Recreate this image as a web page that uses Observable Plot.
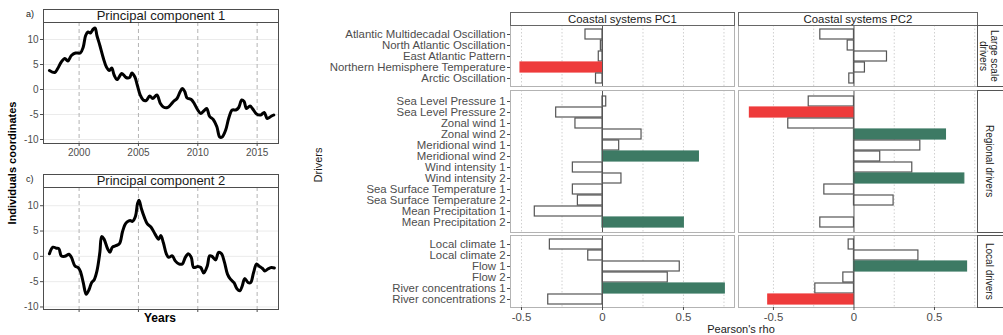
<!DOCTYPE html>
<html><head><meta charset="utf-8">
<script src="https://cdn.jsdelivr.net/npm/d3@7"></script>
<script src="https://cdn.jsdelivr.net/npm/@observablehq/plot@0.6"></script>
<style>
body{margin:0;background:#fff;font-family:"Liberation Sans",Arial,Helvetica,sans-serif;}
#root{position:relative;width:1003px;height:335px;overflow:hidden;background:#fff;}
.abs{position:absolute;white-space:nowrap;}
.strip{position:absolute;box-sizing:border-box;background:#fff;text-align:center;color:#1a1a1a;white-space:nowrap;}
svg{overflow:visible;}
</style></head><body><div id="root"></div>
<script>
// ---------- Data: time series (principal components) ----------
const pc1Years = [1997.5,1997.95,1998.2,1998.5,1998.8,1999.05,1999.35,1999.7,2000.1,2000.35,2000.55,2000.75,2000.95,2001.2,2001.35,2001.5,2001.75,2002.05,2002.3,2002.55,2002.75,2002.95,2003.2,2003.6,2003.95,2004.25,2004.45,2004.7,2004.9,2005.15,2005.4,2005.65,2005.95,2006.2,2006.55,2006.85,2007.1,2007.45,2007.7,2007.95,2008.25,2008.5,2008.7,2008.9,2009.1,2009.45,2009.7,2010.0,2010.25,2010.5,2010.75,2011.0,2011.3,2011.6,2011.85,2012.05,2012.35,2012.6,2012.9,2013.2,2013.45,2013.7,2013.9,2014.1,2014.4,2014.6,2014.95,2015.3,2015.6,2015.85,2016.15,2016.4];
const pc1Values = [3.8,3.4,4.2,5.5,6.2,5.7,6.8,7.3,7.3,8.5,10.8,11.5,11.3,12.1,12.3,10.8,8.8,6.2,4.5,3.8,4.3,2.9,2.0,3.2,2.4,2.4,3.3,2.5,0.9,-1.1,-2.1,-2.2,-1.3,-1.8,-1.1,-2.8,-3.5,-3.6,-3.1,-2.4,-1.8,-0.5,0.2,-0.4,-1.7,-2.0,-2.8,-4.1,-4.8,-4.3,-3.8,-5.4,-6.0,-7.4,-9.5,-9.5,-8.1,-5.8,-4.1,-4.1,-3.6,-2.1,-2.4,-3.8,-3.3,-3.8,-4.9,-5.1,-4.6,-5.8,-5.4,-5.1];
const pc2Years = [1997.5,1997.8,1998.1,1998.3,1998.5,1998.8,1999.15,1999.35,1999.65,1999.9,2000.1,2000.35,2000.6,2000.85,2001.05,2001.25,2001.5,2001.75,2001.9,2002.1,2002.4,2002.6,2002.8,2003.1,2003.4,2003.65,2003.85,2004.05,2004.3,2004.5,2004.75,2004.92,2005.05,2005.25,2005.5,2005.75,2006.05,2006.4,2006.7,2006.88,2007.1,2007.35,2007.55,2007.85,2008.1,2008.4,2008.7,2008.95,2009.2,2009.45,2009.65,2010.0,2010.25,2010.5,2010.8,2011.0,2011.2,2011.5,2011.75,2012.0,2012.25,2012.5,2012.75,2013.05,2013.3,2013.55,2013.75,2013.95,2014.25,2014.45,2014.7,2014.95,2015.15,2015.45,2015.65,2015.9,2016.2,2016.45];
const pc2Values = [0.5,1.8,1.6,1.5,0.1,0.0,0.4,-0.2,-1.9,-2.2,-2.9,-5.2,-7.5,-6.5,-5.2,-4.7,-2.9,0.8,3.9,3.4,1.5,0.8,1.8,2.1,2.5,4.8,6.2,6.8,7.1,6.9,7.9,10.4,11.1,9.4,7.7,6.4,5.8,4.4,3.4,4.1,2.7,0.5,-0.2,0.1,-0.9,-1.5,-1.5,-0.2,0.5,-0.2,-2.2,-2.0,-2.2,-3.3,-1.9,0.1,0.0,-0.7,0.8,0.5,-1.2,-3.5,-4.5,-5.2,-6.4,-6.8,-5.8,-4.4,-5.2,-5.2,-3.2,-1.5,-1.9,-2.4,-2.9,-2.5,-2.2,-2.3];
const tsYTicks = [-10,-5,0,5,10];
const tsXTicks = [2000,2005,2010,2015];
const tsTitles = ["Principal component 1","Principal component 2"];
const tsTags = ["a)","c)"];

// ---------- Data: correlation bars ----------
const drivers = ["Atlantic Multidecadal Oscillation","North Atlantic Oscillation","East Atlantic Pattern","Northern Hemisphere Temperature","Arctic Oscillation",
 "Sea Level Pressure 1","Sea Level Pressure 2","Zonal wind 1","Zonal wind 2","Meridional wind 1","Meridional wind 2","Wind intensity 1","Wind intensity 2","Sea Surface Temperature 1","Sea Surface Temperature 2","Mean Precipitation 1","Mean Precipitation 2",
 "Local climate 1","Local climate 2","Flow 1","Flow 2","River concentrations 1","River concentrations 2"];
const driverGroup = ["large","large","large","large","large",
 "regional","regional","regional","regional","regional","regional","regional","regional","regional","regional","regional","regional",
 "local","local","local","local","local","local"];
const rhoPC1 = [-0.105,-0.01,-0.023,-0.506,-0.04, 0.023,-0.286,-0.167,0.241,0.103,0.595,-0.183,0.117,-0.183,-0.152,-0.418,0.502, -0.325,-0.088,0.477,0.403,0.755,-0.335];
const sigPC1 = [0,0,0,1,0, 0,0,0,0,0,1,0,0,0,0,0,1, 0,0,0,0,1,0];
const rhoPC2 = [-0.209,-0.039,0.205,0.068,-0.029, -0.281,-0.646,-0.408,0.571,0.412,0.163,0.362,0.685,-0.184,0.246,0.0,-0.209, -0.033,0.4,0.702,-0.066,-0.24,-0.532];
const sigPC2 = [0,0,0,0,0, 0,1,0,1,0,0,0,1,0,0,0,0, 0,0,1,0,0,1];
const groupKeys = ["large","regional","local"];
const groupLabels = [["Large scale","drivers"],["Regional drivers"],["Local drivers"]];
const columnTitles = ["Coastal systems PC1","Coastal systems PC2"];
const rhoTicks = [-0.5,0,0.5];
const rhoGrid = [-0.5,-0.25,0.25,0.5,0.75];

// ---------- Layout ----------
const FONT = '"Liberation Sans", Arial, Helvetica, sans-serif';
const RED = "#EE3B3B", GREEN = "#3D7A64";
const root = document.getElementById("root");
function place(node, left, top){ node.style.position="absolute"; node.style.left=left+"px"; node.style.top=top+"px"; root.appendChild(node); return node; }
function div(cls, css, html){ const d=document.createElement("div"); d.className=cls; Object.assign(d.style, css); if(html!==undefined) d.innerHTML=html; root.appendChild(d); return d; }

// ---- Left: time series ----
const tsSeries = [[pc1Years, pc1Values],[pc2Years, pc2Values]];
const tsTop = [22, 187];
const tsH = [121, 122];
const tsDom = [[-10.8,13.4],[-10.5,13.6]];
tsSeries.forEach(([ys, vs], k) => {
  const data = ys.map((y,i)=>({year:y, value:vs[i]}));
  const labels = k===0;
  const mb = labels ? 20 : 6;
  const p = Plot.plot({
    width: 286, height: tsH[k]+1+mb,
    marginLeft: 43, marginRight: 8, marginTop: 1, marginBottom: mb,
    style: {fontFamily: FONT, fontSize: "10px", color: "#4d4d4d", background: "transparent"},
    x: {domain: [1997.0, 2016.8], label: null, axis: null},
    y: {domain: tsDom[k], label: null, axis: null},
    marks: [
      Plot.gridY(tsYTicks, {stroke: "#ebebeb", strokeOpacity: 1}),
      Plot.ruleX(tsXTicks, {stroke: "#b3b3b3", strokeDasharray: "4,3", strokeWidth: 1}),
      Plot.line(data, {x: "year", y: "value", stroke: "#000", strokeWidth: 3, curve: "catmull-rom", strokeLinejoin: "round"}),
      Plot.frame({stroke: "#4d4d4d"}),
      Plot.axisY({ticks: tsYTicks, tickSize: 3, tickPadding: 2, tickFormat: d => String(d), label: null, fontSize: 10, color: "#4d4d4d"}),
      Plot.axisX({ticks: tsXTicks, tickSize: 3, tickPadding: 2, tickFormat: labels ? (d => String(d)) : (() => ""), label: null, fontSize: 10, color: "#4d4d4d"})
    ]
  });
  place(p, 0, tsTop[k]-1);
  div("strip", {left:"43px", top:(tsTop[k]-13)+"px", width:"236px", height:"14px", border:"1px solid #4d4d4d", fontSize:"13px", lineHeight:"12px"}, tsTitles[k]);
  div("abs", {left:"26px", top:(tsTop[k]-13)+"px", fontSize:"9px", color:"#1a1a1a"}, tsTags[k]);
});
div("abs", {left:"160px", top:"318px", transform:"translate(-50%,-50%)", fontSize:"12px", fontWeight:"bold", color:"#000"}, "Years");
div("abs", {left:"12px", top:"163px", transform:"translate(-50%,-50%) rotate(-90deg)", fontSize:"11px", fontWeight:"bold", color:"#000"}, "Individuals coordinates");

// ---- Right: correlation facets ----
const rowTops = [25, 90, 235];
const rowHeights = [61, 142, 72];
const cols = [
  {rho: rhoPC1, sig: sigPC1, left: 510, right: 734, domain: [-0.568, 0.815]},
  {rho: rhoPC2, sig: sigPC2, left: 738, right: 977, domain: [-0.717, 0.767]}
];
cols.forEach((col, c) => {
  groupKeys.forEach((g, r) => {
    const rows = drivers.map((d,i)=>({driver:d, group:driverGroup[i], rho:col.rho[i], sig:col.sig[i]})).filter(d=>d.group===g);
    const isFirst = c===0, isLast = r===2;
    const ml = isFirst ? 190 : 1;
    const mb = isLast ? 19 : 0;
    const grid = rhoGrid.filter(v => v > col.domain[0] && v < col.domain[1]);
    const p = Plot.plot({
      width: (col.right-col.left)+ml+1, height: rowHeights[r]+1+mb,
      marginLeft: ml, marginRight: 1, marginTop: 1, marginBottom: mb,
      style: {fontFamily: FONT, fontSize: "11.4px", color: "#4d4d4d", background: "transparent"},
      x: {domain: col.domain, label: null, axis: null},
      y: {type: "band", domain: rows.map(d=>d.driver), paddingInner: 0.1, paddingOuter: 0.15, label: null, axis: null},
      color: {type: "identity"},
      marks: [
        Plot.gridX(grid, {stroke: "#d0d0d0", strokeOpacity: 1, strokeDasharray: "1.5,2"}),
        Plot.barX(rows, {x1: d => 0, x2: "rho", y: "driver",
          fill: d => d.sig ? (d.rho < 0 ? RED : GREEN) : "#fff",
          stroke: d => d.sig ? (d.rho < 0 ? RED : GREEN) : "#555",
          strokeWidth: 1.2}),
        Plot.ruleX([0], {stroke: "#555", strokeWidth: 1}),
        Plot.frame({stroke: "#b3b3b3"}),
        isFirst ? Plot.axisY({tickSize: 3, tickPadding: 2, label: null, fontSize: 11.4, color: "#4d4d4d"}) : null,
        isLast ? Plot.axisX({ticks: rhoTicks, tickSize: 3, tickPadding: 2, tickFormat: d => String(d), label: null, fontSize: 11.4, color: "#4d4d4d"}) : null
      ].filter(Boolean)
    });
    place(p, col.left-ml, rowTops[r]-1);
  });
  div("strip", {left:col.left+"px", top:"12px", width:(col.right-col.left+1)+"px", height:"14px", border:"1px solid #666", fontSize:"11.4px", lineHeight:"12px"}, columnTitles[c]);
});
groupKeys.forEach((g, r) => {
  const s = div("strip", {left:"977px", top:rowTops[r]+"px", width:"36px", height:(rowHeights[r]+1)+"px", border:"1px solid #555", display:"flex", alignItems:"center", justifyContent:"center", paddingRight:"12px"});
  const t = document.createElement("div");
  Object.assign(t.style, {writingMode:"vertical-rl", fontSize:"10px", lineHeight:"11px", color:"#1a1a1a", textAlign:"center"});
  t.innerHTML = groupLabels[r].join("<br>");
  s.appendChild(t);
});
div("abs", {left:"318px", top:"165px", transform:"translate(-50%,-50%) rotate(-90deg)", fontSize:"11px", color:"#1a1a1a"}, "Drivers");
div("abs", {left:"741px", top:"329px", transform:"translate(-50%,-50%)", fontSize:"11px", color:"#1a1a1a"}, "Pearson's rho");
</script></body></html>
